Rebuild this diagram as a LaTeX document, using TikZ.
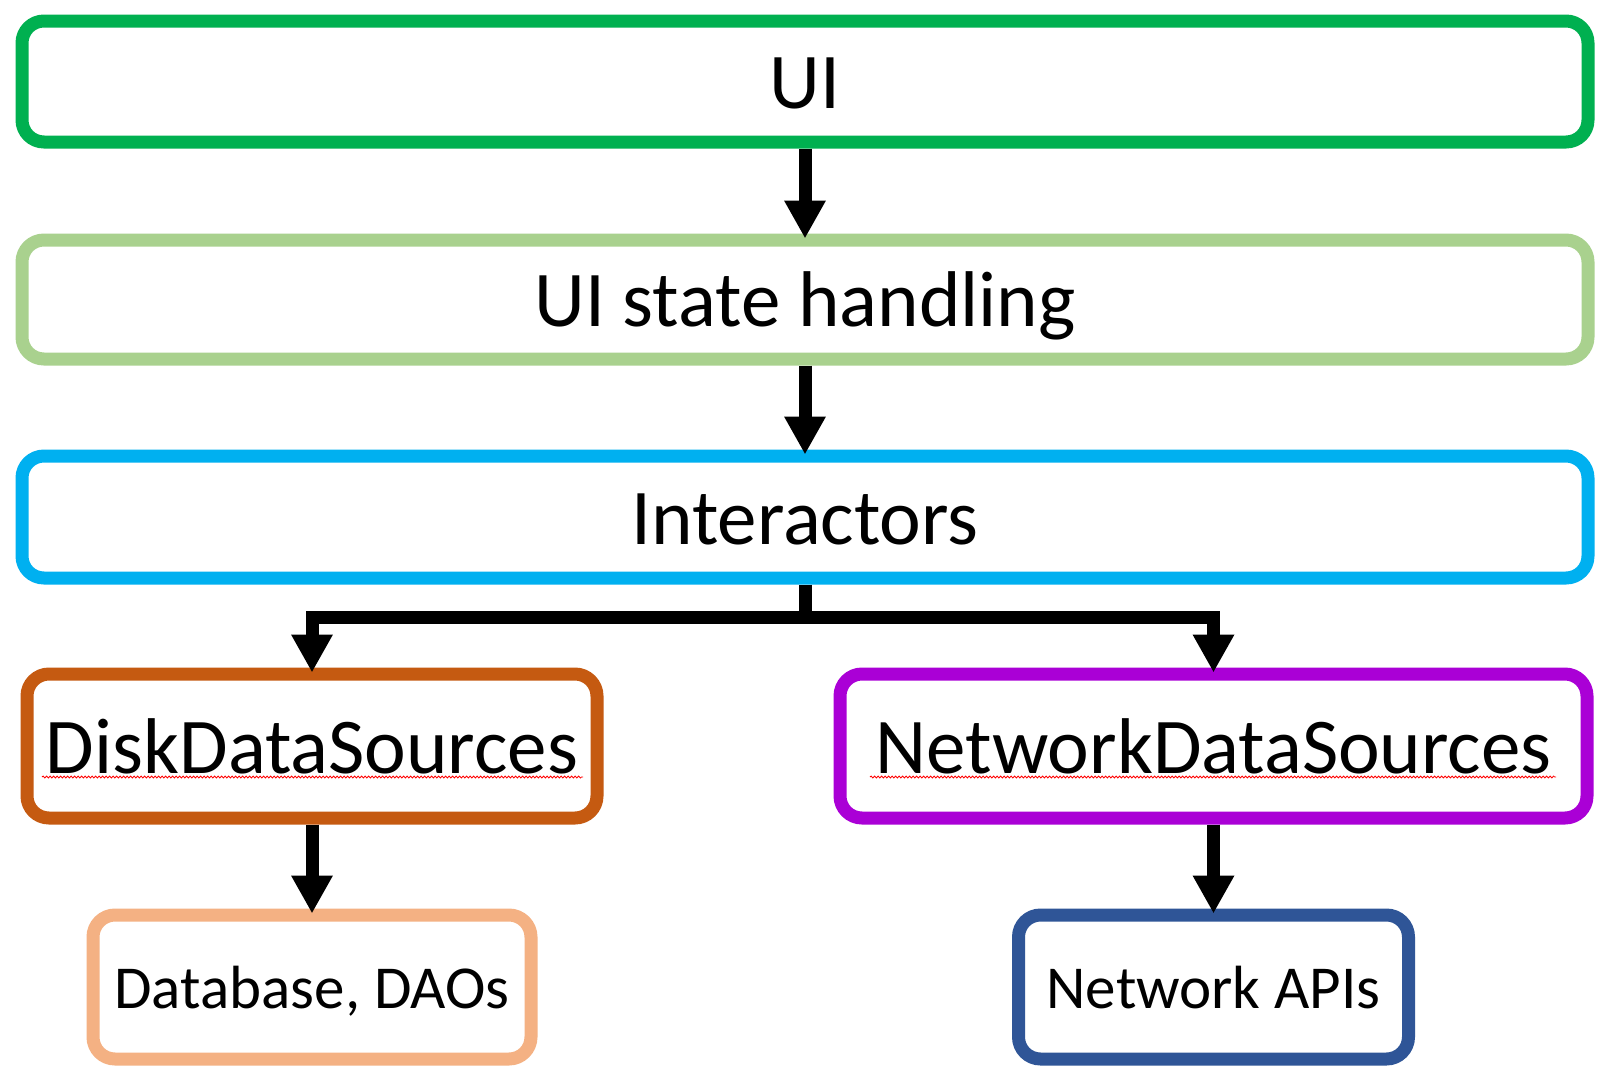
\documentclass[tikz,border=0pt]{standalone}
\usepackage{fontspec}
\setmainfont{Carlito}
\usetikzlibrary{arrows.meta,decorations.pathmorphing}
\definecolor{cUI}{RGB}{0,176,80}
\definecolor{cState}{RGB}{169,209,142}
\definecolor{cInter}{RGB}{0,176,240}
\definecolor{cDisk}{RGB}{197,90,17}
\definecolor{cNet}{RGB}{170,0,214}
\definecolor{cDb}{RGB}{244,177,131}
\definecolor{cApi}{RGB}{47,85,151}
\begin{document}
\begin{tikzpicture}[x=1pt,y=-1pt,
  box/.style={draw, line width=13pt, rounded corners=22pt, inner sep=0pt, text depth=0pt, fill=white},
  big/.style={font=\fontsize{79}{90}\selectfont, text height=54pt},
  small/.style={font=\fontsize{61}{70}\selectfont, text height=42pt},
  arr/.style={draw=black, line width=13pt, shorten >=-5pt, -{Triangle[length=38pt,width=39pt]}},
  sq/.style={draw=red, line width=0.8pt, decorate, decoration={snake, amplitude=1pt, segment length=3.5pt}}
]
\useasboundingbox (0,0) rectangle (1610,1080);
\fill[white] (0,0) rectangle (1610,1080);

\node[box,big,draw=cUI,minimum width=1566pt,minimum height=121pt] (ui) at (805,81.5) {UI};
\node[box,big,draw=cState,minimum width=1566pt,minimum height=119pt] (state) at (805,299.5) {UI state handling};
\node[box,big,draw=cInter,minimum width=1566pt,minimum height=122pt] (inter) at (805,517) {Interactors};
\node[box,big,draw=cDisk,minimum width=570pt,minimum height=144pt] (disk) at (312,746) {DiskDataSources};
\node[box,big,draw=cNet,minimum width=747pt,minimum height=144pt] (net) at (1213.5,746) {NetworkDataSources};
\node[box,small,draw=cDb,minimum width=438pt,minimum height=144pt] (db) at (312,987) {Database, DAOs};
\node[box,small,draw=cApi,minimum width=390pt,minimum height=144pt] (api) at (1213.5,987) {Network APIs};

\draw[sq] (42,777) -- (583,777);
\draw[sq] (870,777) -- (1556,777);

\coordinate (br) at (805,617);
\draw[arr] (ui.south) -- (state.north);
\draw[arr] (state.south) -- (inter.north);
\draw[arr] (inter.south) -- (br) -| (disk.north);
\draw[arr] (br) -| (net.north);
\draw[arr] (disk.south) -- (db.north);
\draw[arr] (net.south) -- (api.north);
\end{tikzpicture}
\end{document}
